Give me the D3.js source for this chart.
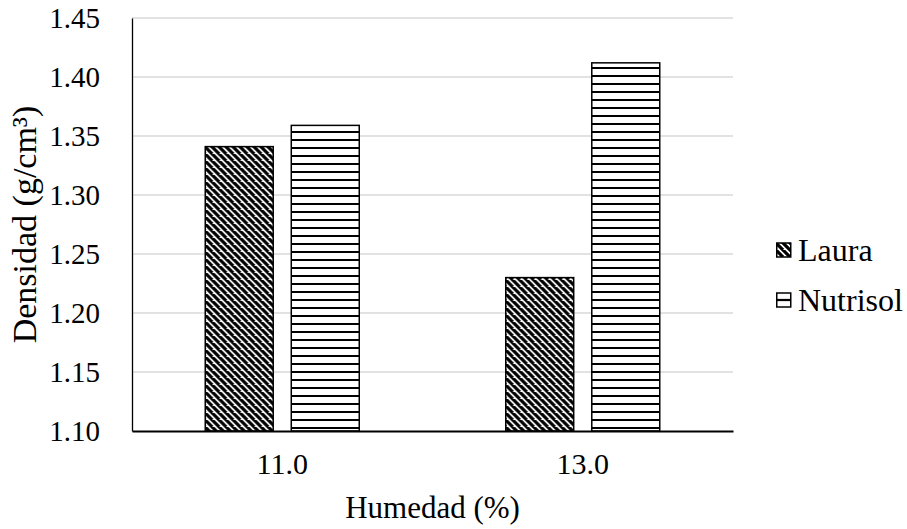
<!DOCTYPE html>
<html>
<head>
<meta charset="utf-8">
<script src="https://cdn.jsdelivr.net/npm/d3@7"></script>
<style>
  body { margin: 0; background: #fff; }
</style>
</head>
<body>
<div id="chart"></div>
<script>
'use strict';

// data
const categories = ['11.0', '13.0'];
const seriesNames = ['Laura', 'Nutrisol'];
const laura = [1.341, 1.230];
const nutrisol = [1.359, 1.412];
const yTicks = [1.10, 1.15, 1.20, 1.25, 1.30, 1.35, 1.40, 1.45];

const width = 907, height = 529;
const plot = { left: 132, right: 733, top: 18, bottom: 431 };
const serif = 'Liberation Serif';

const svg = d3.select('#chart').append('svg')
  .attr('width', width).attr('height', height)
  .style('font-family', serif);

// patterns
const defs = svg.append('defs');
const p = 7; // diagonal stripe period
const diag = defs.append('pattern')
  .attr('id', 'pLaura').attr('patternUnits', 'userSpaceOnUse')
  .attr('width', p).attr('height', p);
diag.append('rect').attr('width', p).attr('height', p).attr('fill', '#fff');
// three parallel "\" strokes so the tile wraps cleanly
diag.append('path')
  .attr('d', `M${-p},0 L0,${p} M0,0 L${p},${p} M0,${-p} L${p * 2},${p}`)
  .attr('stroke', '#000').attr('stroke-width', 3.2);

const horiz = defs.append('pattern')
  .attr('id', 'pNutrisol').attr('patternUnits', 'userSpaceOnUse')
  .attr('width', 8).attr('height', 8);
horiz.append('rect').attr('width', 8).attr('height', 8).attr('fill', '#fff');
horiz.append('rect').attr('y', 3).attr('width', 8).attr('height', 2).attr('fill', '#000');

// legend key for Nutrisol only shows one line through the middle
const horizKey = defs.append('pattern')
  .attr('id', 'pNutrisolKey').attr('patternUnits', 'objectBoundingBox')
  .attr('patternContentUnits', 'objectBoundingBox')
  .attr('width', 1).attr('height', 1);
horizKey.append('rect').attr('width', 1).attr('height', 1).attr('fill', '#fff');
horizKey.append('rect').attr('y', 0.42).attr('width', 1).attr('height', 0.16).attr('fill', '#000');

const fills = ['url(#pLaura)', 'url(#pNutrisol)'];
const keyFills = ['url(#pLaura)', 'url(#pNutrisolKey)'];

// scales
const x0 = d3.scaleBand().domain(categories).range([plot.left, plot.right]);
const x1 = d3.scaleBand().domain(seriesNames).range([0, 154]).paddingInner(0.21);
const y = d3.scaleLinear().domain([1.10, 1.45]).range([plot.bottom, plot.top]);

// gridlines
svg.append('g').selectAll('line').data(yTicks.slice(1)).enter().append('line')
  .attr('x1', plot.left).attr('x2', plot.right)
  .attr('y1', d => y(d)).attr('y2', d => y(d))
  .attr('stroke', '#d9d9d9').attr('stroke-width', 1.5);

// y axis
const yAxis = d3.axisLeft(y).tickValues(yTicks).tickFormat(d3.format('.2f')).tickSize(0).tickPadding(32);
svg.append('g').attr('transform', `translate(${plot.left},0)`).call(yAxis)
  .attr('font-family', serif)
  .call(g => g.select('.domain').attr('stroke', '#000').attr('stroke-width', 1.3))
  .call(g => g.selectAll('text').attr('font-size', 29).attr('dy', '0.34em')
    .style('font-family', serif));

// bars
const groups = svg.append('g').selectAll('g').data(categories).enter().append('g')
  .attr('transform', d => `translate(${x0(d) + x0.bandwidth() / 2 - 77},0)`);

groups.selectAll('rect')
  .data((d, i) => [laura[i], nutrisol[i]].map((v, k) => ({ name: seriesNames[k], value: v, k })))
  .enter().append('rect')
  .attr('x', d => x1(d.name))
  .attr('width', x1.bandwidth())
  .attr('y', d => y(d.value))
  .attr('height', d => y(1.10) - y(d.value))
  .attr('fill', d => fills[d.k])
  .attr('stroke', '#000').attr('stroke-width', 1.5);

// x axis
const xAxis = d3.axisBottom(x0).tickSize(0).tickPadding(22);
svg.append('g').attr('transform', `translate(0,${plot.bottom})`).call(xAxis)
  .attr('font-family', serif)
  .call(g => g.select('.domain').attr('stroke', '#000').attr('stroke-width', 2))
  .call(g => g.selectAll('text').attr('font-size', 30).style('font-family', serif));

// axis titles
svg.append('text')
  .attr('x', (plot.left + plot.right) / 2).attr('y', 518)
  .attr('text-anchor', 'middle').attr('font-size', 31)
  .style('font-family', serif)
  .text('Humedad (%)');

svg.append('text')
  .attr('transform', `translate(36,${(plot.top + plot.bottom) / 2}) rotate(-90)`)
  .attr('text-anchor', 'middle').attr('font-size', 34)
  .style('font-family', serif)
  .text('Densidad (g/cm³)');

// legend
const legend = svg.append('g').selectAll('g').data(seriesNames).enter().append('g')
  .attr('transform', (d, i) => `translate(776,${250 + i * 50})`);
legend.append('rect')
  .attr('x', 0.75).attr('y', -7).attr('width', 14).attr('height', 14)
  .attr('fill', (d, i) => keyFills[i]).attr('stroke', '#000').attr('stroke-width', 1.5);
legend.append('text')
  .attr('x', 22).attr('dy', '0.34em').attr('font-size', 32)
  .style('font-family', serif)
  .text(d => d);
</script>
</body>
</html>
